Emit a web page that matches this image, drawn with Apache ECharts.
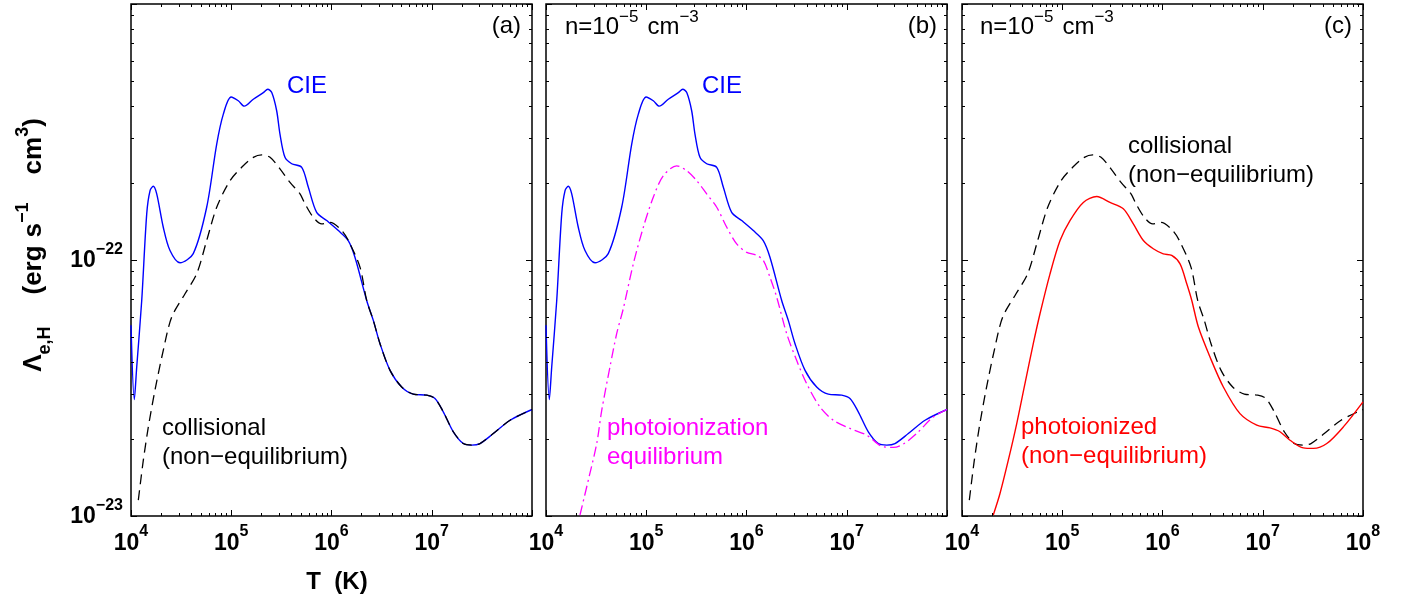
<!DOCTYPE html>
<html>
<head>
<meta charset="utf-8">
<title>Electron cooling efficiency</title>
<script src="https://cdn.jsdelivr.net/npm/echarts@6/dist/echarts.min.js"></script>
<style>
html, body { margin: 0; padding: 0; background: #fff; }
#chart { width: 1408px; height: 600px; }
</style>
</head>
<body>
<div id="chart"></div>
<script>
// Temperatures as log10(T / K), cooling efficiencies as log10(Λ_e,H / erg s^-1 cm^3);
// both axes are laid out in these decade units.

// collisional ionization equilibrium (CIE)
const logT_cie = [4.000, 4.033, 4.057, 4.107, 4.157, 4.190, 4.222, 4.256, 4.322, 4.389, 4.489, 4.621, 4.755, 4.855, 4.921, 4.998,
  5.070, 5.130, 5.220, 5.320, 5.364, 5.404, 5.453, 5.486, 5.536, 5.603, 5.703, 5.769, 5.852, 5.952, 6.068, 6.167, 6.234, 6.351,
  6.417, 6.484, 6.584, 6.700, 6.816, 6.950, 7.032, 7.115, 7.215, 7.315, 7.399, 7.481, 7.614, 7.781, 8.000];
const logL_cie = [-22.255, -22.545, -22.418, -22.158, -21.819, -21.729, -21.712, -21.741, -21.872, -21.963, -22.011, -21.975, -21.794, -21.547, -21.430, -21.363,
  -21.378, -21.399, -21.372, -21.346, -21.333, -21.346, -21.417, -21.508, -21.599, -21.624, -21.638, -21.716, -21.814, -21.846, -21.885, -21.924, -21.989, -22.158,
  -22.236, -22.327, -22.431, -22.496, -22.524, -22.528, -22.541, -22.593, -22.671, -22.717, -22.723, -22.717, -22.678, -22.626, -22.584];

// collisional, non-equilibrium
const logT_coll = [4.073, 4.123, 4.173, 4.239, 4.322, 4.406, 4.539, 4.655, 4.755, 4.855, 4.988, 5.104, 5.220, 5.304, 5.387, 5.486,
  5.586, 5.686, 5.736, 5.818, 5.902, 5.985, 6.102, 6.168, 6.284, 6.351,
  6.417, 6.484, 6.584, 6.700, 6.816, 6.950, 7.032, 7.115, 7.215, 7.315, 7.399, 7.481, 7.614, 7.781, 8.000];
const logL_coll = [-22.938, -22.782, -22.652, -22.509, -22.353, -22.223, -22.132, -22.054, -21.924, -21.794, -21.690, -21.638, -21.599, -21.589, -21.599, -21.644,
  -21.697, -21.742, -21.781, -21.833, -21.859, -21.853, -21.885, -21.924, -22.028, -22.158,
  -22.236, -22.327, -22.431, -22.496, -22.524, -22.528, -22.541, -22.593, -22.671, -22.717, -22.723, -22.717, -22.678, -22.626, -22.584];

// photoionization equilibrium, n = 1e-5 cm^-3
const logT_pie = [4.339, 4.422, 4.506, 4.556, 4.638, 4.705, 4.771, 4.871, 4.971, 5.070, 5.170, 5.304, 5.403, 5.503, 5.603, 5.703,
  5.803, 5.902, 6.002, 6.102, 6.168, 6.234, 6.301, 6.401, 6.500, 6.600, 6.733, 6.866, 7.032, 7.198, 7.365, 7.465, 7.564, 7.697, 7.863, 8.000];
const logL_pie = [-22.996, -22.860, -22.717, -22.587, -22.418, -22.288, -22.190, -22.015, -21.872, -21.755, -21.671, -21.632, -21.651, -21.690, -21.742, -21.794,
  -21.872, -21.937, -21.970, -21.982, -22.002, -22.067, -22.145, -22.288, -22.392, -22.483, -22.574, -22.626, -22.658, -22.684, -22.730, -22.732, -22.719, -22.678, -22.613, -22.584];

// photoionized, non-equilibrium, n = 1e-5 cm^-3
const logT_pnei = [4.312, 4.379, 4.462, 4.546, 4.628, 4.711, 4.778, 4.878, 4.978, 5.077, 5.210, 5.344, 5.476, 5.609, 5.709, 5.809,
  5.908, 6.008, 6.092, 6.175, 6.242, 6.292, 6.358, 6.474, 6.607, 6.773, 6.940, 7.072, 7.172, 7.272, 7.405, 7.505, 7.639, 7.804, 8.000];
const logL_pnei = [-22.996, -22.912, -22.782, -22.639, -22.483, -22.327, -22.210, -22.054, -21.924, -21.846, -21.775, -21.752, -21.775, -21.800, -21.859, -21.924,
  -21.956, -21.976, -21.982, -22.015, -22.093, -22.158, -22.262, -22.379, -22.496, -22.600, -22.645, -22.656, -22.671, -22.704, -22.734, -22.736, -22.717, -22.652, -22.554];

// axes (decade exponents)
const xRange = [4, 8];
const yRange = [-23, -21];
const xDecades = [4, 5, 6, 7, 8];
const yDecades = [-23, -22, -21];
const xLabelDecades = [[4, 5, 6, 7], [4, 5, 6, 7], [4, 5, 6, 7, 8]];
const yLabelDecades = [-23, -22];
const minorFactors = [2, 3, 4, 5, 6, 7, 8, 9];
const panelTags = ['(a)', '(b)', '(c)'];

const minorsOf = decades => decades.slice(0, -1).flatMap(d => minorFactors.map(f => d + Math.log10(f)));
const xMinor = minorsOf(xDecades);
const yMinor = minorsOf(yDecades);

const panelLeft = [131, 546, 962];
const panelTop = 4, panelW = 401, panelH = 512;

const FONT = 'Liberation Sans';

function powLabel(v) {
  const e = Math.round(v);
  return '{b|10}{s|' + (e < 0 ? '\u2212' + (-e) : e) + '}';
}
const tickRich = {
  b: { fontFamily: FONT, fontWeight: 'bold', fontSize: 23, color: '#000', lineHeight: 31, verticalAlign: 'bottom' },
  s: { fontFamily: FONT, fontWeight: 'bold', fontSize: 16, color: '#000', verticalAlign: 'top' }
};

function decadeAxis(isX, grid, position, ticks, tickLen, labels) {
  return {
    type: 'value', gridIndex: grid, position: position,
    min: isX ? xRange[0] : yRange[0],
    max: isX ? xRange[1] : yRange[1],
    axisLine: { show: false, onZero: false },
    splitLine: { show: false },
    minorTick: { show: false },
    axisPointer: { show: false },
    axisTick: { show: true, inside: true, length: tickLen, customValues: ticks, lineStyle: { color: '#000', width: 1 } },
    axisLabel: labels ? {
      show: true, customValues: labels, formatter: powLabel, rich: tickRich,
      margin: isX ? 8 : 8, padding: isX ? 0 : [0, 0, 6, 0]
    } : { show: false },
    z: 5
  };
}

const grids = [], xAxes = [], yAxes = [];
// frame grids (0..2) carry the data and decade ticks, overlay grids (3..5) the minor ticks
for (let g = 0; g < 3; g++) {
  grids.push({ left: panelLeft[g], top: panelTop, width: panelW, height: panelH, show: true,
    borderColor: '#000', borderWidth: 1.5, backgroundColor: 'transparent', containLabel: false });
}
for (let g = 0; g < 3; g++) {
  grids.push({ left: panelLeft[g], top: panelTop, width: panelW, height: panelH, show: false, containLabel: false });
}
for (let g = 0; g < 3; g++) {
  xAxes.push(decadeAxis(true, g, 'bottom', xDecades, 6, xLabelDecades[g]));
  xAxes.push(decadeAxis(true, g, 'top', xDecades, 6, null));
  yAxes.push(decadeAxis(false, g, 'left', yDecades, 6, g === 0 ? yLabelDecades : null));
  yAxes.push(decadeAxis(false, g, 'right', yDecades, 6, null));
}
for (let g = 0; g < 3; g++) {
  xAxes.push(decadeAxis(true, 3 + g, 'bottom', xMinor, 3, null));
  xAxes.push(decadeAxis(true, 3 + g, 'top', xMinor, 3, null));
  yAxes.push(decadeAxis(false, 3 + g, 'left', yMinor, 3, null));
  yAxes.push(decadeAxis(false, 3 + g, 'right', yMinor, 3, null));
}

const toPoints = (lt, ll) => lt.map((t, i) => [t, ll[i]]);
const curveStyle = {
  cie:  { color: '#0000ff', width: 1.4, type: 'solid' },
  coll: { color: '#000000', width: 1.3, type: [10, 6] },
  pie:  { color: '#ff00ff', width: 1.3, type: [10, 4, 2, 4] },
  pnei: { color: '#ff0000', width: 1.4, type: 'solid' }
};
function curve(g, pts, st) {
  return {
    type: 'line', xAxisIndex: 2 * g, yAxisIndex: 2 * g, data: pts,
    showSymbol: false, symbol: 'none', smooth: 0.3, clip: true, silent: true,
    lineStyle: Object.assign({}, st), z: 3
  };
}
const cie = toPoints(logT_cie, logL_cie);
const coll = toPoints(logT_coll, logL_coll);
const pie = toPoints(logT_pie, logL_pie);
const pnei = toPoints(logT_pnei, logL_pnei);

const series = [
  curve(0, cie, curveStyle.cie),
  curve(0, coll, curveStyle.coll),
  curve(1, cie, curveStyle.cie),
  curve(1, pie, curveStyle.pie),
  curve(2, coll, curveStyle.coll),
  curve(2, pnei, curveStyle.pnei)
];

// annotations
function label(text, x, y, color, align) {
  return { type: 'text', x: x, y: y, z: 10, silent: true,
    style: { text: text, fill: color, fontFamily: FONT, fontSize: 24, align: align || 'left', verticalAlign: 'middle' } };
}
const densityRich = {
  t: { fontFamily: FONT, fontSize: 24, fill: '#000', lineHeight: 30, verticalAlign: 'bottom' },
  c: { fontFamily: FONT, fontSize: 24, fill: '#000', lineHeight: 30, verticalAlign: 'bottom', padding: [0, 0, 0, 9] },
  p: { fontFamily: FONT, fontSize: 17, fill: '#000', verticalAlign: 'top' }
};
function density(x) {
  return { type: 'text', x: x, y: 24, z: 10, silent: true,
    style: { text: '{t|n=10}{p|\u22125}{c|cm}{p|\u22123}', rich: densityRich, align: 'left', verticalAlign: 'middle' } };
}
const titleRich = {
  b:   { fontFamily: FONT, fontWeight: 'bold', fontSize: 26, fill: '#000', lineHeight: 40, verticalAlign: 'middle' },
  g1:  { fontFamily: FONT, fontWeight: 'bold', fontSize: 26, fill: '#000', verticalAlign: 'middle', padding: [0, 0, 0, 32] },
  g2:  { fontFamily: FONT, fontWeight: 'bold', fontSize: 26, fill: '#000', verticalAlign: 'middle', padding: [0, 0, 0, 8] },
  g3:  { fontFamily: FONT, fontWeight: 'bold', fontSize: 26, fill: '#000', verticalAlign: 'middle', padding: [0, 0, 0, 28] },
  sub: { fontFamily: FONT, fontWeight: 'bold', fontSize: 18, fill: '#000', verticalAlign: 'bottom' },
  sup: { fontFamily: FONT, fontWeight: 'bold', fontSize: 18, fill: '#000', verticalAlign: 'top' }
};

const graphics = [
  label(panelTags[0], 521, 26, '#000', 'right'),
  label(panelTags[1], 937, 26, '#000', 'right'),
  label(panelTags[2], 1352, 26, '#000', 'right'),
  label('CIE', 287, 86, '#0000ff'),
  label('CIE', 702, 86, '#0000ff'),
  label('collisional', 162, 428, '#000'),
  label('(non\u2212equilibrium)', 162, 457, '#000'),
  label('photoionization', 607, 428, '#ff00ff'),
  label('equilibrium', 607, 457, '#ff00ff'),
  label('collisional', 1128, 146, '#000'),
  label('(non\u2212equilibrium)', 1128, 175, '#000'),
  label('photoionized', 1021, 427, '#ff0000'),
  label('(non\u2212equilibrium)', 1021, 456, '#ff0000'),
  density(565),
  density(980),
  { type: 'text', x: 337, y: 582, z: 10, silent: true,
    style: { text: 'T  (K)', fill: '#000', fontFamily: FONT, fontWeight: 'bold', fontSize: 24, align: 'center', verticalAlign: 'middle' } },
  { type: 'text', x: 34, y: 245, rotation: Math.PI / 2, z: 10, silent: true,
    style: { text: '{b|\u039B}{sub|e,H}{g1|(erg}{g2|s}{sup|\u22121}{g3|cm}{sup|3}{b|)}', rich: titleRich, align: 'center', verticalAlign: 'middle' } }
];

const chart = echarts.init(document.getElementById('chart'), null, { renderer: 'canvas' });
chart.setOption({
  animation: false,
  backgroundColor: '#fff',
  grid: grids,
  xAxis: xAxes,
  yAxis: yAxes,
  series: series,
  graphic: graphics
});
</script>
</body>
</html>
